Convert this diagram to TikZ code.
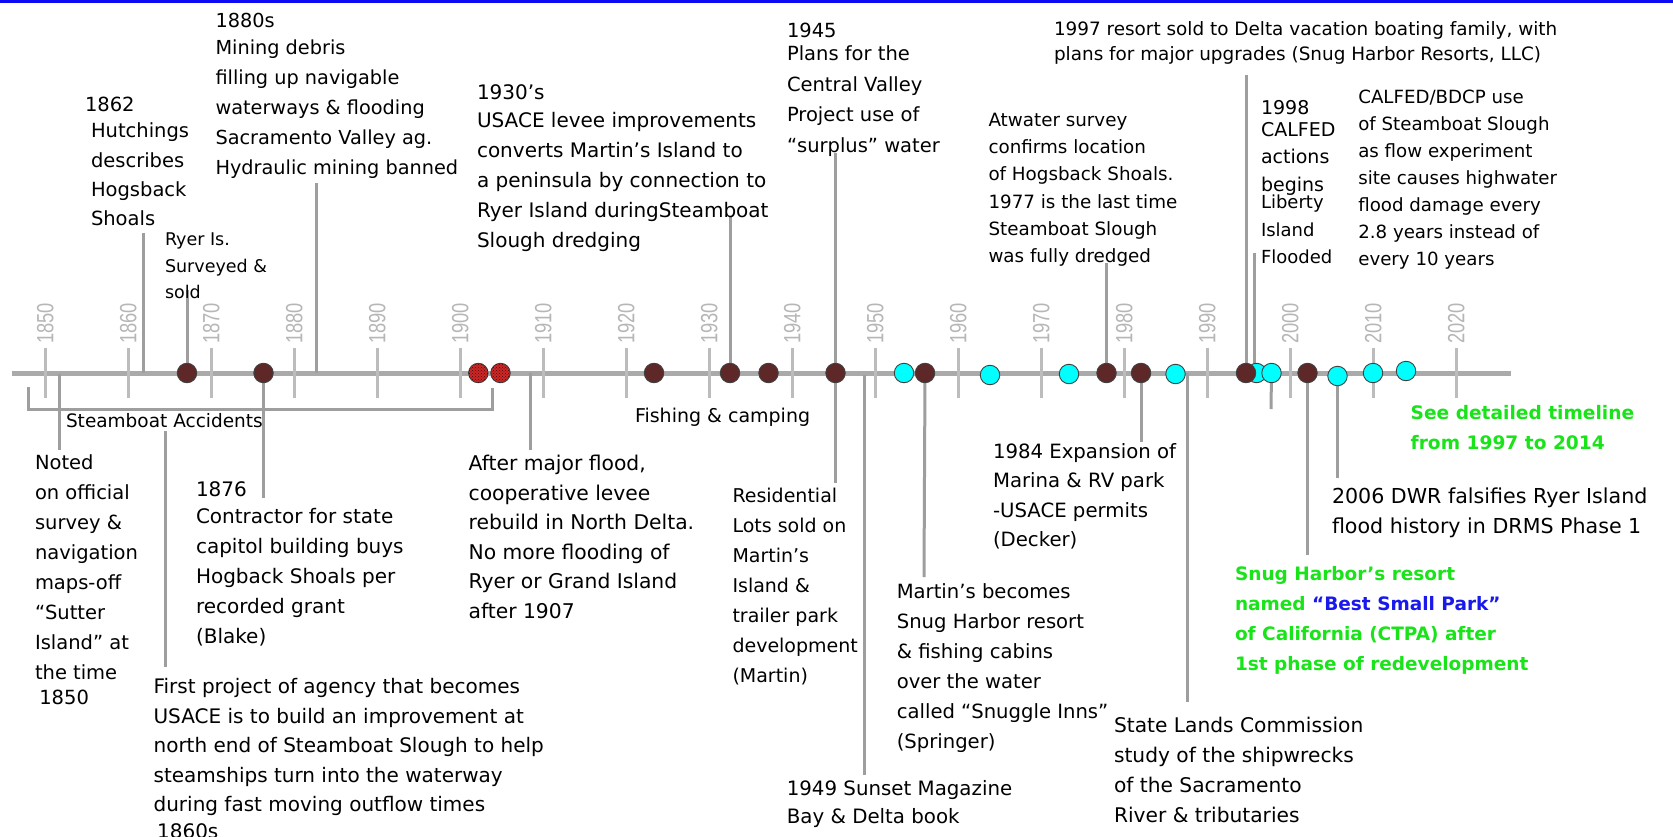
\documentclass[tikz,border=0pt]{standalone}
\usepackage{fontspec}
\usepackage{graphicx}
\setmainfont{DejaVu Sans}
\newfontfamily\yearfont{Liberation Sans}
\usetikzlibrary{patterns,backgrounds}
\definecolor{barblue}{RGB}{10,10,245}
\definecolor{axisgray}{RGB}{170,170,170}
\definecolor{tickgray}{RGB}{188,188,188}
\definecolor{yeargray}{RGB}{182,182,182}
\definecolor{leadgray}{RGB}{158,158,158}
\definecolor{dotbrown}{RGB}{94,40,40}
\definecolor{dotred}{RGB}{205,40,40}
\definecolor{dotcyan}{RGB}{0,255,255}
\definecolor{txtgreen}{RGB}{25,228,25}
\definecolor{txtblue}{RGB}{25,25,235}
\newcommand\fsz[2]{\fontsize{#1}{#2}\selectfont}
\begin{document}
\begin{tikzpicture}[x=1pt,y=-1pt,
  txt/.style={anchor=north west,inner sep=0pt,outer sep=0pt,align=left,text=black},
  gtxt/.style={txt,text=txtgreen},
  lead/.style={draw=leadgray,line width=3pt},
  tickln/.style={draw=tickgray,line width=3.5pt},
  yearlbl/.style={rotate=90,anchor=west,inner sep=0pt,text=yeargray,font=\yearfont\fsz{23.5}{24}},
  evt/.style={circle,draw=black!75,line width=0.9pt,minimum size=19.5pt,inner sep=0pt},
  evb/.style={evt,fill=dotbrown},
  evr/.style={evt,fill=dotred,postaction={pattern=crosshatch dots,pattern color=red!30!black}},
  evc/.style={evt,fill=dotcyan}]
\useasboundingbox (0,0) rectangle (1673,837);

% ---------- event dots ----------
\node[evc] (dP1) at (1256.5,373) {};
\node[evb] (dA) at (187,373) {};
\node[evb] (dB) at (263.5,373) {};
\node[evr] (dC) at (478.3,373) {};
\node[evr] (dD) at (500.5,373) {};
\node[evb] (dE) at (654,373) {};
\node[evb] (dF) at (730,373) {};
\node[evb] (dG) at (768.5,373) {};
\node[evb] (dH) at (835.5,373) {};
\node[evc] (dI) at (904,373) {};
\node[evb] (dJ) at (925,373) {};
\node[evc] (dK) at (990,375) {};
\node[evc] (dL) at (1069,374) {};
\node[evb] (dM) at (1106.5,373) {};
\node[evb] (dN) at (1141,373) {};
\node[evc] (dO) at (1175.5,374) {};
\node[evb] (dP) at (1246,373) {};
\node[evc] (dQ) at (1271.5,373) {};
\node[evb] (dR) at (1307.5,373) {};
\node[evc] (dS) at (1337.5,376) {};
\node[evc] (dT) at (1373,373) {};
\node[evc] (dU) at (1406,371) {};

% ---------- texts above the axis ----------
\node[txt,font=\fsz{19.5}{29}] (t1862) at (85,97) {1862};
\node[txt,font=\fsz{19.5}{29.3}] (tHutch) at (91,123) {Hutchings\\describes\\Hogsback\\Shoals};
\node[txt,font=\fsz{17.5}{26.5}] (tRyer) at (165,233) {Ryer Is.\\Surveyed \&\\sold};
\node[txt,font=\fsz{19.3}{30}] (t1880) at (215.5,13.5) {1880s\\[-3pt]Mining debris\\filling up navigable\\waterways \& flooding\\Sacramento Valley ag.\\Hydraulic mining banned};
\node[txt,font=\fsz{20}{30}] (t1930) at (477,85) {1930’s\\[-2pt]USACE levee improvements\\converts Martin’s Island to\\a peninsula by connection to\\Ryer Island duringSteamboat\\Slough dredging};
\node[txt,font=\fsz{19.5}{30.5}] (t1945) at (787,23) {1945\\[-7pt]Plans for the\\Central Valley\\Project use of\\“surplus” water};
\node[txt,font=\fsz{18.4}{25.5}] (t1997) at (1054,21.5) {1997 resort sold to Delta vacation boating family, with\\plans for major upgrades (Snug Harbor Resorts, LLC)};
\node[txt,font=\fsz{18.3}{27.3}] (tAtw) at (988.5,113) {Atwater survey\\confirms location\\of Hogsback Shoals.\\1977 is the last time\\Steamboat Slough\\was fully dredged};
\node[txt,font=\fsz{19}{27.5}] (t1998) at (1261,100) {1998\\[-5.5pt]CALFED\\actions\\begins};
\node[txt,font=\fsz{18}{27.5}] (tLib) at (1261,195) {Liberty\\Island\\Flooded};
\node[txt,font=\fsz{18.2}{27}] (tCal) at (1358.3,90) {CALFED/BDCP use\\of Steamboat Slough\\as flow experiment\\site causes highwater\\flood damage every\\2.8 years instead of\\every 10 years};

% ---------- texts below the axis ----------
\node[txt,font=\fsz{18.5}{28}] (tSteam) at (66,413) {Steamboat Accidents};
\node[txt,font=\fsz{19.5}{30}] (tNoted) at (35,455) {Noted\\on official\\survey \&\\navigation\\maps-off\\“Sutter\\Island” at\\the time\\[-5pt]\hspace*{4.3pt}1850};
\node[txt,font=\fsz{20}{30}] (t1876) at (196,481.7) {1876\\[-3.3pt]Contractor for state\\capitol building buys\\Hogback Shoals per\\recorded grant\\(Blake)};
\node[txt,font=\fsz{20}{29.5}] (tFirst) at (153.6,678.3) {First project of agency that becomes\\USACE is to build an improvement at\\north end of Steamboat Slough to help\\steamships turn into the waterway\\during fast moving outflow times\\[-3pt]\hspace*{3.5pt}1860s};
\node[txt,font=\fsz{20.3}{29.6}] (tAfter) at (468.6,455) {After major flood,\\cooperative levee\\rebuild in North Delta.\\No more flooding of\\Ryer or Grand Island\\after 1907};
\node[txt,font=\fsz{19}{28}] (tFish) at (635,408.3) {Fishing \& camping};
\node[txt,font=\fsz{19}{30}] (tResid) at (732.5,488.3) {Residential\\Lots sold on\\Martin’s\\Island \&\\trailer park\\development\\(Martin)};
\node[txt,font=\fsz{19.6}{30}] (tMart) at (896.8,583.3) {Martin’s becomes\\Snug Harbor resort\\\& fishing cabins\\over the water\\called “Snuggle Inns”\\(Springer)};
\node[txt,font=\fsz{19.8}{28.3}] (t1949) at (786.8,780) {1949 Sunset Magazine\\Bay \& Delta book};
\node[txt,font=\fsz{19.7}{29.5}] (t1984) at (993,443.3) {1984 Expansion of\\Marina \& RV park\\-USACE permits\\(Decker)};
\node[txt,font=\fsz{20.2}{30}] (tState) at (1114,716.7) {State Lands Commission\\study of the shipwrecks\\of the Sacramento\\River \& tributaries};
\node[gtxt,font=\bfseries\fsz{18.6}{30}] (tSee) at (1410.7,405) {See detailed timeline\\from 1997 to 2014};
\node[txt,font=\fsz{20.6}{30}] (t2006) at (1332,488.3) {2006 DWR falsifies Ryer Island\\flood history in DRMS Phase 1};
\node[gtxt,font=\bfseries\fsz{18.5}{30}] (tSnug) at (1235,566.7) {Snug Harbor’s resort\\named {\color{txtblue}“Best Small Park”}\\of California (CTPA) after\\1st phase of redevelopment};

% ---------- background: frame, axis, ticks, leaders ----------
\begin{scope}[on background layer]
\fill[white] (0,0) rectangle (1673,837);
\fill[barblue] (0,0) rectangle (1673,3.2);
\coordinate (axL) at (12,373);
\coordinate (axR) at (1511,373);
\draw[draw=axisgray,line width=5pt] (axL) -- (axR);
\foreach \i in {0,...,17}{
  \pgfmathsetmacro\tx{45.3+83*\i}
  \pgfmathtruncatemacro\yr{1850+10*\i}
  \coordinate (tk\i t) at (\tx,348);
  \coordinate (tk\i b) at (\tx,398);
  \draw[tickln] (tk\i t) -- (tk\i b);
  \node[yearlbl] (yl\i) at (\tx,344) {\scalebox{0.78}[1]{\yr}};
}
% leaders above
\coordinate (c1862) at (143.3,233); \coordinate (c1862a) at (143.3,373);
\draw[lead] (c1862) -- (c1862a);
\coordinate (cRyer) at (187,290);
\draw[lead] (cRyer) -- (dA.center);
\coordinate (c1880) at (316.7,183); \coordinate (c1880a) at (316.7,373);
\draw[lead] (c1880) -- (c1880a);
\coordinate (c1930) at (730,217);
\draw[lead] (c1930) -- (dF.center);
\coordinate (c1945) at (835.5,153);
\draw[lead] (c1945) -- (dH.center);
\coordinate (cAtw) at (1106.5,263);
\draw[lead] (cAtw) -- (dM.center);
\coordinate (c1997) at (1246,75);
\draw[lead] (c1997) -- (dP.center);
\coordinate (cLib) at (1254.5,253); \coordinate (cLiba) at (1254.5,373);
\draw[lead] (cLib) -- (cLiba);
% leaders below
\coordinate (cNoteda) at (59,374); \coordinate (cNoted) at (59,450);
\draw[lead] (cNoteda) -- (cNoted);
\coordinate (cBr1) at (28,387); \coordinate (cBr2) at (28,409);
\coordinate (cBr3) at (492,409); \coordinate (cBr4) at (492,388);
\draw[lead] (cBr1) -- (cBr2) -- (cBr3) -- (cBr4);
\coordinate (cFirstA) at (165,431); \coordinate (cFirstB) at (165,667);
\draw[lead] (cFirstA) -- (cFirstB);
\coordinate (c1876) at (263.5,498);
\draw[lead] (dB.center) -- (c1876);
\coordinate (cAftera) at (530.5,373); \coordinate (cAfter) at (530.5,450);
\draw[lead] (cAftera) -- (cAfter);
\coordinate (cResid) at (835.5,483);
\draw[lead] (dH.center) -- (cResid);
\coordinate (c1949a) at (864.5,375); \coordinate (c1949) at (864.5,775);
\draw[lead] (c1949a) -- (c1949);
\coordinate (cMart) at (924,577);
\draw[lead] (dJ.center) -- (cMart);
\coordinate (c1984) at (1141,442);
\draw[lead] (dN.center) -- (c1984);
\coordinate (cStatea) at (1187.5,373); \coordinate (cState) at (1187.5,702);
\draw[lead] (cStatea) -- (cState);
\coordinate (cStub) at (1271,409);
\draw[lead] (dQ.center) -- (cStub);
\coordinate (cSnug) at (1307.5,555);
\draw[lead] (dR.center) -- (cSnug);
\coordinate (c2006) at (1337.5,478);
\draw[lead] (dS.center) -- (c2006);
\end{scope}
\end{tikzpicture}
\end{document}
